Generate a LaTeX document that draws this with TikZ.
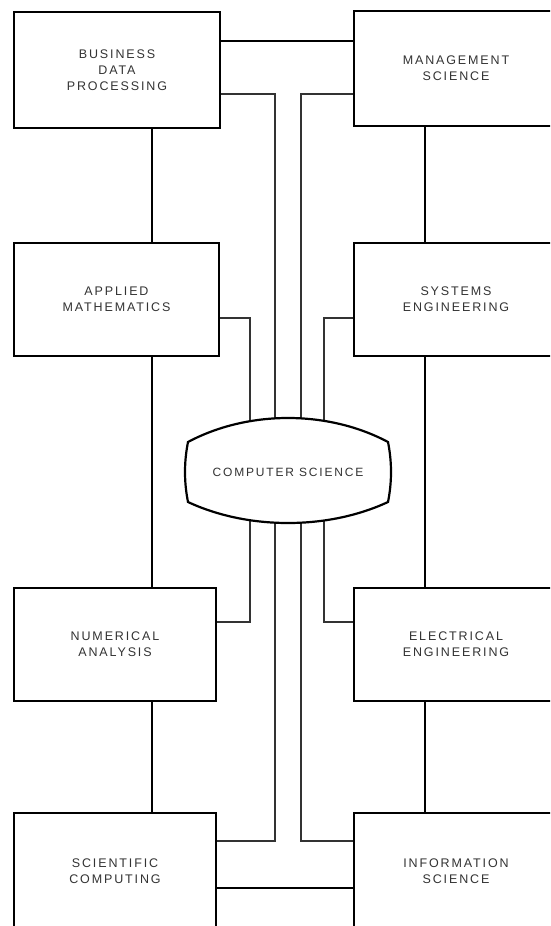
\documentclass[tikz,border=0pt]{standalone}
\usepackage{fontspec}
\newfontfamily\labfont{Liberation Sans}[LetterSpace=15]
\newfontfamily\csfont{Liberation Sans}[LetterSpace=15]
\begin{document}
\begin{tikzpicture}[x=1pt,y=-1pt,
  box/.style={draw, line width=2.4pt, fill=white, align=center, inner sep=0pt,
    font=\labfont\fontsize{12.5}{16}\selectfont, text=black!80},
  chain/.style={line width=2pt},
  feed/.style={line width=1.3pt, black!80},
  csshape/.style={line width=2.2pt, fill=white}]
\useasboundingbox (0,0) rectangle (550,926);
\fill[white] (0,0) rectangle (550,926);
\clip (0,0) rectangle (550,926);

% row coordinates
\coordinate (r1) at (0,41);
\coordinate (r2) at (0,94);
\coordinate (r3) at (0,318);
\coordinate (r4) at (0,622);
\coordinate (r5) at (0,841);
\coordinate (r6) at (0,888);
% column coordinates
\coordinate (cl) at (151.5,0);
\coordinate (cr) at (424.5,0);
% feed columns at the centre level
\coordinate (fa) at (250,472);
\coordinate (fb) at (275,472);
\coordinate (fc) at (301,472);
\coordinate (fd) at (324,472);

% boxes
\node[box, minimum width=206pt, minimum height=116pt] (bdp) at (117,70) {BUSINESS\\DATA\\PROCESSING};
\node[box, minimum width=204pt, minimum height=115pt] (ms) at (456,68.5) {MANAGEMENT\\SCIENCE};
\node[box, minimum width=205pt, minimum height=113pt] (am) at (116.5,299.5) {APPLIED\\MATHEMATICS};
\node[box, minimum width=204pt, minimum height=113pt] (se) at (456,299.5) {SYSTEMS\\ENGINEERING};
\node[box, minimum width=202pt, minimum height=113pt] (na) at (115,644.5) {NUMERICAL\\ANALYSIS};
\node[box, minimum width=204pt, minimum height=113pt] (ee) at (456,644.5) {ELECTRICAL\\ENGINEERING};
\node[box, minimum width=202pt, minimum height=116pt] (sc) at (115,871) {SCIENTIFIC\\COMPUTING};
\node[box, minimum width=204pt, minimum height=116pt] (is) at (456,871) {INFORMATION\\SCIENCE};

% chain connectors between neighbouring boxes
\draw[chain] (bdp.east |- r1) -- (ms.west |- r1);
\draw[chain] (sc.east |- r6) -- (is.west |- r6);
\draw[chain] (bdp.south -| cl) -- (am.north -| cl);
\draw[chain] (am.south -| cl) -- (na.north -| cl);
\draw[chain] (na.south -| cl) -- (sc.north -| cl);
\draw[chain] (ms.south -| cr) -- (se.north -| cr);
\draw[chain] (se.south -| cr) -- (ee.north -| cr);
\draw[chain] (ee.south -| cr) -- (is.north -| cr);

% feeders into computer science
\draw[feed] (bdp.east |- r2) -| (fb);
\draw[feed] (ms.west |- r2) -| (fc);
\draw[feed] (am.east |- r3) -| (fa);
\draw[feed] (se.west |- r3) -| (fd);
\draw[feed] (na.east |- r4) -| (fa);
\draw[feed] (ee.west |- r4) -| (fd);
\draw[feed] (sc.east |- r5) -| (fb);
\draw[feed] (is.west |- r5) -| (fc);

% computer science screen shape
\draw[csshape] (188,442) .. controls (248,410) and (328,410) .. (388,442)
  .. controls (392,462) and (392,482) .. (388,502)
  .. controls (328,530) and (248,530) .. (188,502)
  .. controls (184,482) and (184,462) .. cycle;
\node[font=\csfont\fontsize{12}{14}\selectfont, text=black!80] (cs) at (288,472) {COMPUTER SCIENCE};
\end{tikzpicture}
\end{document}
